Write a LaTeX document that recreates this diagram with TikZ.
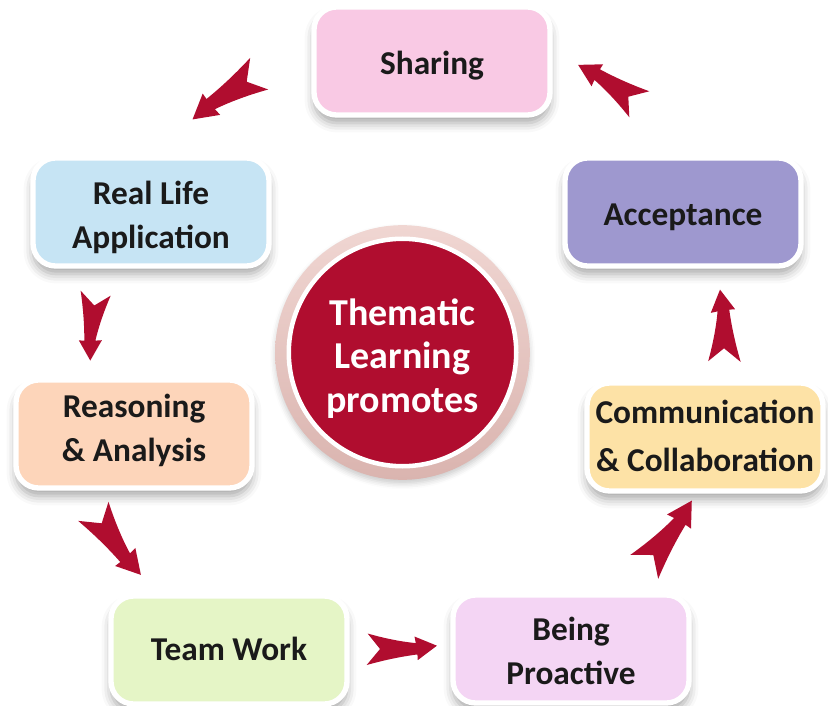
\documentclass[tikz,border=0pt]{standalone}
\usepackage{fontspec}
\setmainfont{Carlito}
\usetikzlibrary{shadows.blur}
\definecolor{txt}{HTML}{1A1A1A}
\definecolor{arrowred}{HTML}{B00D2F}
\definecolor{cpink}{HTML}{F9C9E4}
\definecolor{cblue}{HTML}{C6E4F4}
\definecolor{cpurple}{HTML}{9E98CF}
\definecolor{cpeach}{HTML}{FDD5BA}
\definecolor{ccream}{HTML}{FDE2A6}
\definecolor{cgreen}{HTML}{E5F5C6}
\definecolor{clilac}{HTML}{F4D5F4}
\definecolor{haloa}{HTML}{F0D6D2}
\definecolor{halob}{HTML}{DAB4AF}
\begin{document}
\begin{tikzpicture}[x=0.75pt,y=-0.75pt,
  box/.style={rectangle, rounded corners=17pt, draw=white, line width=4pt,
    minimum width=177pt, minimum height=81pt,
    blur shadow={shadow xshift=0pt, shadow yshift=-6pt, shadow blur radius=7pt, shadow opacity=35}},
  lbl/.style={align=center, text=txt, inner sep=0pt,
    font=\bfseries\fontsize{25}{33}\selectfont, yshift=-#1*0.75pt},
  lbl/.default=0,
  barrow/.pic={
    \fill[arrowred] (0,0) -- (-12,-17) .. controls (8,-10) and (25,-6) .. (38,-4)
      -- (37,-11) -- (60,0) -- (39,14) -- (39,8)
      .. controls (25,9) and (8,11) .. (-15,16) -- cycle;
  }]
\useasboundingbox (0,0) rectangle (828,706);
% boxes
\node[box, fill=cpink, label={[lbl=5, name=tshare]center:Sharing}] (share) at (432,61) {};
\node[box, fill=cblue, label={[lbl=5, name=treal]center:Real Life\\Application}] (real) at (151,212) {};
\node[box, fill=cpurple, label={[lbl=5, name=taccept]center:Acceptance}] (accept) at (683,212) {};
\node[box, fill=cpeach, label={[lbl=-4, name=treason]center:Reasoning\\\& Analysis}] (reason) at (134,434) {};
\node[box, fill=ccream, label={[lbl=-1, name=tcomm, font=\bfseries\fontsize{25}{36}\selectfont]center:Communication\\\& Collaboration}] (comm) at (705,437) {};
\node[box, fill=cgreen, label={[lbl=-1, name=tteam]center:Team Work}] (team) at (229,650) {};
\node[box, fill=clilac, label={[lbl=2, name=tbeing]center:Being\\Proactive}] (being) at (571,649) {};
% centre
\node[circle, minimum size=191pt, top color=haloa, bottom color=halob,
  blur shadow={shadow xshift=0pt, shadow yshift=-3pt, shadow blur radius=4pt, shadow opacity=20}] (halo) at (402.5,352.5) {};
\node[circle, minimum size=170.6pt, fill=arrowred, draw=white, line width=3.4pt] (core) at (halo.center) {};
\node[align=center, text=white, inner sep=0pt, font=\bfseries\fontsize{28.5}{32.8}\selectfont]
  (ctext) at ([yshift=-4.5pt]core.center) {Thematic\\Learning\\promotes};
% arrows (notch points between nodes)
\coordinate (a1) at (246.7,81.7);
\coordinate (a2) at (94.3,305.5);
\coordinate (a3) at (101.7,523.3);
\coordinate (a4) at (380,649);
\coordinate (a5) at (653.3,555);
\coordinate (a6) at (724,348.3);
\coordinate (a7) at (628.3,96.7);
\pic[rotate=214.85, scale=1.10] at (a1) {barrow};
\pic[rotate=265.8, scale=0.92] at (a2) {barrow};
\pic[rotate=-52.76, scale=1.08] at (a3) {barrow};
\pic[rotate=3.33, scale=0.95] at (a4) {barrow};
\pic[rotate=54.7, scale=1.11] at (a5) {barrow};
\pic[rotate=93.9, scale=0.98] at (a6) {barrow};
\pic[rotate=147.6, scale=0.99] at (a7) {barrow};
\end{tikzpicture}
\end{document}
